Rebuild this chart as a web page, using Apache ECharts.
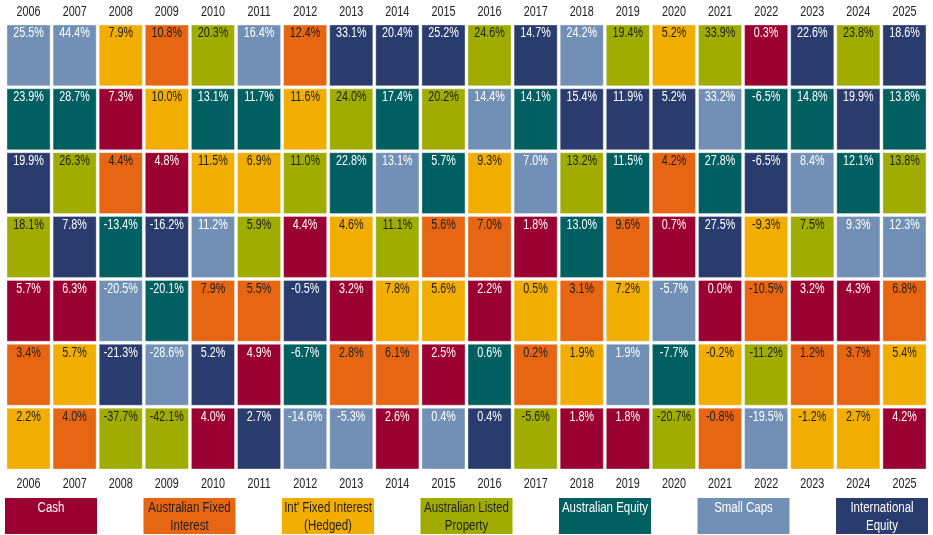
<!DOCTYPE html>
<html>
<head>
<meta charset="UTF-8">
<title>Asset class returns 2006-2025</title>
<style>
  html, body { margin: 0; padding: 0; background: #fff; }
  #chart { width: 933px; height: 535px; }
</style>
</head>
<body>
<div id="chart"></div>
<script src="https://cdn.jsdelivr.net/npm/echarts@6/dist/echarts.min.js"></script>
<script>
var years = ['2006', '2007', '2008', '2009', '2010', '2011', '2012', '2013', '2014', '2015',
  '2016', '2017', '2018', '2019', '2020', '2021', '2022', '2023', '2024', '2025'];

var assetNames = ['Cash', 'Australian Fixed\nInterest', "Int' Fixed Interest\n(Hedged)",
  'Australian Listed\nProperty', 'Australian Equity', 'Small Caps', 'International\nEquity'];
var assetColors = ['#9b0033', '#e66614', '#f1ae00', '#a0ad00', '#005f60', '#7290b5', '#2a3c6e'];
var assetText = ['#fff', '#1e1e1e', '#1e1e1e', '#1e1e1e', '#fff', '#fff', '#fff'];

// annual returns (%) per asset class, 2006..2025
var cash      = [5.7, 6.3, 7.3, 4.8, 4.0, 4.9, 4.4, 3.2, 2.6, 2.5, 2.2, 1.8, 1.8, 1.8, 0.7, 0.0, 0.3, 3.2, 4.3, 4.2];
var ausFixed  = [3.4, 4.0, 4.4, 10.8, 7.9, 5.5, 12.4, 2.8, 6.1, 5.6, 7.0, 0.2, 3.1, 9.6, 4.2, -0.8, -10.5, 1.2, 3.7, 6.8];
var intFixed  = [2.2, 5.7, 7.9, 10.0, 11.5, 6.9, 11.6, 4.6, 7.8, 5.6, 9.3, 0.5, 1.9, 7.2, 5.2, -0.2, -9.3, -1.2, 2.7, 5.4];
var property  = [18.1, 26.3, -37.7, -42.1, 20.3, 5.9, 11.0, 24.0, 11.1, 20.2, 24.6, -5.6, 13.2, 19.4, -20.7, 33.9, -11.2, 7.5, 23.8, 13.8];
var ausEquity = [23.9, 28.7, -13.4, -20.1, 13.1, 11.7, -6.7, 22.8, 17.4, 5.7, 0.6, 14.1, 13.0, 11.5, -7.7, 27.8, -6.5, 14.8, 12.1, 13.8];
var smallCaps = [25.5, 44.4, -20.5, -28.6, 11.2, 16.4, -14.6, -5.3, 13.1, 0.4, 14.4, 7.0, 24.2, 1.9, -5.7, 33.2, -19.5, 8.4, 9.3, 12.3];
var intEquity = [19.9, 7.8, -21.3, -16.2, 5.2, 2.7, -0.5, 33.1, 20.4, 25.2, 0.4, 14.7, 15.4, 11.9, 5.2, 27.5, -6.5, 22.6, 19.9, 18.6];

var returns = [cash, ausFixed, intFixed, property, ausEquity, smallCaps, intEquity];
// order used when two returns are equal (rounded) in a year
var tiePriority = [0, 1, 2, 4, 3, 5, 6];
var ranks = ['1', '2', '3', '4', '5', '6', '7'];

var cells = [];
years.forEach(function (y, yi) {
  var idx = returns.map(function (r, ai) { return ai; });
  idx.sort(function (a, b) {
    var d = returns[b][yi] - returns[a][yi];
    return d !== 0 ? d : tiePriority[a] - tiePriority[b];
  });
  idx.forEach(function (ai, rank) {
    cells.push([yi, rank, returns[ai][yi], ai]);
  });
});

// no narrow font installed, so squeeze Liberation Sans horizontally
var FONT = '"Liberation Sans", Arial, sans-serif';
var NARROW = 0.77;
var GAP = 3;

var chart = echarts.init(document.getElementById('chart'));

var legendItems = assetNames.map(function (name, i) {
  return {
    type: 'group',
    left: 5 + i * 138.5,
    top: 498,
    children: [
      { type: 'rect', shape: { x: 0, y: 0, width: 92, height: 36 }, style: { fill: assetColors[i] } },
      {
        type: 'text', x: 46, y: 1, scaleX: 0.82,
        style: {
          text: name, x: 0, y: 0, align: 'center', verticalAlign: 'top',
          fill: assetText[i], fontSize: 14, lineHeight: 18, fontFamily: FONT
        }
      }
    ]
  };
});

var hiddenAxis = { axisLine: { show: false }, axisTick: { show: false }, axisLabel: { show: false } };

var option = {
  backgroundColor: '#fff',
  animation: false,
  grid: { left: 7, right: 4, top: 25, bottom: 63, containLabel: false, outerBoundsMode: 'none' },
  xAxis: Object.assign({ type: 'category', data: years }, hiddenAxis),
  yAxis: { type: 'category', data: ranks, inverse: true, show: false },
  graphic: legendItems,
  series: [
    {
      type: 'custom',
      data: cells,
      renderItem: function (params, api) {
        var c = api.coord([api.value(0), api.value(1)]);
        var s = api.size([1, 1]);
        var a = api.value(3);
        var w = s[0] - GAP, h = s[1] - GAP;
        var x = c[0] - s[0] / 2, y = c[1] - s[1] / 2;
        return {
          type: 'group',
          children: [
            {
              type: 'rect',
              shape: { x: x, y: y, width: w, height: h },
              style: { fill: assetColors[a], stroke: 'rgba(255,255,255,0.35)', lineWidth: 1 }
            },
            {
              type: 'text', x: x + w / 2, y: y + 1.5, scaleX: NARROW,
              style: {
                text: api.value(2).toFixed(1) + '%', x: 0, y: 0,
                align: 'center', verticalAlign: 'top',
                fill: assetText[a], fontSize: 14, fontFamily: FONT
              }
            }
          ]
        };
      }
    },
    {
      // year labels above and below the table
      type: 'custom',
      data: years.map(function (y, i) { return [i, 0]; }),
      silent: true,
      renderItem: function (params, api) {
        var cs = params.coordSys;
        var c = api.coord([api.value(0), 0]);
        var cx = c[0] - GAP / 2;
        var label = years[api.value(0)];
        var txt = function (ty) {
          return {
            type: 'text', x: cx, y: ty, scaleX: NARROW,
            style: {
              text: label, x: 0, y: 0, align: 'center', verticalAlign: 'middle',
              fill: '#222', fontSize: 14, fontFamily: FONT
            }
          };
        };
        return {
          type: 'group',
          children: [txt(cs.y - 13), txt(cs.y + cs.height + 12.5)]
        };
      }
    }
  ]
};

chart.setOption(option);
</script>
</body>
</html>
